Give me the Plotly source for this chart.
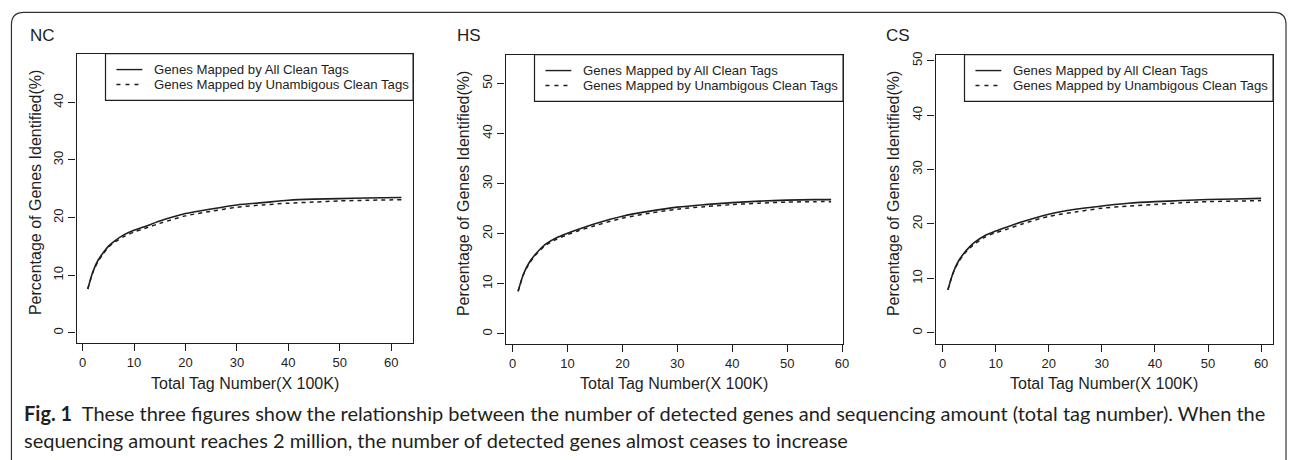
import plotly.graph_objects as go

W, H = 1293, 460

# ---------------- data ----------------
panel_names = ["NC", "HS", "CS"]
series_names = ["Genes Mapped by All Clean Tags", "Genes Mapped by Unambigous Clean Tags"]

nc_x = [1, 2, 3, 4, 5, 6, 8, 10, 12, 15, 20, 25, 30, 35, 40, 45, 50, 55, 62]
nc_all = [7.6, 10.6, 12.6, 13.9, 15.0, 15.8, 17.0, 17.8, 18.4, 19.4, 20.7, 21.5, 22.2, 22.6, 23.0, 23.2, 23.3, 23.4, 23.5]
nc_unamb = [7.6, 10.5, 12.4, 13.7, 14.8, 15.6, 16.7, 17.5, 18.1, 19.0, 20.3, 21.1, 21.8, 22.2, 22.5, 22.7, 22.9, 23.0, 23.1]

hs_x = [1, 2, 3, 4, 5, 6, 8, 10, 12, 15, 20, 25, 30, 35, 40, 45, 50, 55, 58]
hs_all = [8.5, 12.0, 14.2, 15.7, 16.9, 17.9, 19.2, 20.1, 20.9, 22.0, 23.5, 24.5, 25.3, 25.8, 26.2, 26.5, 26.7, 26.8, 26.8]
hs_unamb = [8.5, 11.9, 14.0, 15.5, 16.7, 17.7, 18.9, 19.8, 20.6, 21.6, 23.1, 24.1, 24.9, 25.4, 25.8, 26.1, 26.3, 26.4, 26.4]

cs_x = [1, 2, 3, 4, 5, 6, 8, 10, 12, 15, 20, 25, 30, 35, 40, 45, 50, 55, 60]
cs_all = [7.9, 11.1, 13.2, 14.6, 15.7, 16.6, 17.9, 18.7, 19.4, 20.4, 21.8, 22.7, 23.3, 23.8, 24.1, 24.3, 24.5, 24.6, 24.7]
cs_unamb = [7.9, 11.0, 13.0, 14.4, 15.5, 16.3, 17.6, 18.4, 19.0, 20.0, 21.4, 22.2, 22.9, 23.3, 23.6, 23.9, 24.1, 24.2, 24.3]

x_ticks = [0, 10, 20, 30, 40, 50, 60]
nc_y_ticks = [0, 10, 20, 30, 40]
hs_y_ticks = [0, 10, 20, 30, 40, 50]
cs_y_ticks = [0, 10, 20, 30, 40, 50]

x_title = "Total Tag Number(X 100K)"
y_title = "Percentage of Genes Identified(%)"
caption_1 = "<b>Fig. 1</b>  These three figures show the relationship between the number of detected genes and sequencing amount (total tag number). When the"
caption_2 = "sequencing amount reaches 2 million, the number of detected genes almost ceases to increase"

# ---------------- layout geometry (pixels) ----------------
def px(x):
    return x / W

def py(y):
    return 1 - y / H

panels = [
    dict(name="NC", x=nc_x, a=nc_all, u=nc_unamb, yt=nc_y_ticks,
         box=(77, 415, 51, 342), xr=[-1.16, 64.26], yr=[-1.72, 48.45],
         title_x=28, ytitle_x=35),
    dict(name="HS", x=hs_x, a=hs_all, u=hs_unamb, yt=hs_y_ticks,
         box=(508, 847, 52, 343), xr=[-1.27, 60.18], yr=[-1.98, 55.75],
         title_x=457, ytitle_x=465),
    dict(name="CS", x=cs_x, a=cs_all, u=cs_unamb, yt=cs_y_ticks,
         box=(940, 1279, 52, 343), xr=[-1.31, 62.25], yr=[-2.0, 51.1],
         title_x=888, ytitle_x=897),
]

FONT = "Liberation Sans, Arial, Helvetica, sans-serif"
INK = "#1e1e1e"

fig = go.Figure()
shapes = []
annotations = []
layout_axes = {}

for i, p in enumerate(panels, start=1):
    xa = "x" if i == 1 else f"x{i}"
    ya = "y" if i == 1 else f"y{i}"
    fig.add_trace(go.Scatter(x=p["x"], y=p["a"], mode="lines", xaxis=xa, yaxis=ya,
                             line=dict(color=INK, width=1.6, shape="spline", smoothing=0.8),
                             name=series_names[0], showlegend=False))
    fig.add_trace(go.Scatter(x=p["x"], y=p["u"], mode="lines", xaxis=xa, yaxis=ya,
                             line=dict(color=INK, width=1.5, dash="4px,4px", shape="spline", smoothing=0.8),
                             name=series_names[1], showlegend=False))
    l, r, t, b = p["box"]
    axcommon = dict(showline=True, linecolor=INK, linewidth=1.3, mirror=True,
                    ticks="outside", ticklen=7, tickwidth=1.1, tickcolor=INK,
                    showgrid=False, zeroline=False,
                    tickfont=dict(family=FONT, size=13, color=INK))
    layout_axes["xaxis" if i == 1 else f"xaxis{i}"] = dict(
        axcommon, domain=[px(l), px(r)], range=p["xr"], tickvals=x_ticks,
        anchor=ya)
    layout_axes["yaxis" if i == 1 else f"yaxis{i}"] = dict(
        axcommon, domain=[py(b), py(t)], range=p["yr"], tickvals=p["yt"],
        tickangle=-90, anchor=xa)

    # panel title
    annotations.append(dict(x=px(p["title_x"]), y=py(33), xref="paper", yref="paper",
                            text=p["name"], showarrow=False, xanchor="left", yanchor="middle",
                            font=dict(family=FONT, size=17, color=INK)))
    # axis titles
    annotations.append(dict(x=px((l + r) / 2), y=py(383), xref="paper", yref="paper",
                            text=x_title, showarrow=False, xanchor="center", yanchor="middle",
                            font=dict(family=FONT, size=16, color=INK)))
    annotations.append(dict(x=px(p["ytitle_x"]), y=py((t + b) / 2 - 6), xref="paper", yref="paper",
                            text=y_title, showarrow=False, textangle=-90,
                            xanchor="center", yanchor="middle",
                            font=dict(family=FONT, size=16, color=INK)))
    # legend box
    lb_l = l + 29
    lb_t, lb_b = t, t + 47
    shapes.append(dict(type="rect", xref="paper", yref="paper",
                       x0=px(lb_l), x1=px(r), y0=py(lb_b), y1=py(lb_t),
                       line=dict(color=INK, width=1.2), fillcolor="white", layer="above"))
    for k, (ry, dash) in enumerate([(lb_t + 16, "solid"), (lb_t + 31, "dash")]):
        shapes.append(dict(type="line", xref="paper", yref="paper",
                           x0=px(lb_l + 11), x1=px(lb_l + 37), y0=py(ry), y1=py(ry),
                           line=dict(color=INK, width=1.4, dash="solid" if dash == "solid" else "4px,5px"),
                           layer="above"))
        annotations.append(dict(x=px(lb_l + 47), y=py(ry), xref="paper", yref="paper",
                                text=series_names[k], showarrow=False,
                                xanchor="left", yanchor="middle",
                                font=dict(family=FONT, size=13.2, color=INK)))

# outer rounded frame
def P(x, y):
    return f"{px(x):.5f},{py(y):.5f}"

frame_path = (f"M {P(11.5, 470)} L {P(11.5, 22)} Q {P(11.5, 9.5)} {P(24, 9.5)} "
              f"L {P(1280, 9.5)} Q {P(1292, 9.5)} {P(1292, 22)} L {P(1292, 470)}")
shapes.append(dict(type="path", xref="paper", yref="paper", path=frame_path,
                   line=dict(color="#333333", width=1.2)))

CAP_FONT = "Lato, Noto Sans, sans-serif"
annotations.append(dict(x=px(22), y=py(413), xref="paper", yref="paper", text=caption_1,
                        showarrow=False, xanchor="left", yanchor="middle",
                        font=dict(family=CAP_FONT, size=20, color="#231f20")))
annotations.append(dict(x=px(22), y=py(440), xref="paper", yref="paper", text=caption_2,
                        showarrow=False, xanchor="left", yanchor="middle",
                        font=dict(family=CAP_FONT, size=20, color="#231f20")))

fig.update_layout(width=W, height=H, margin=dict(l=0, r=0, t=0, b=0),
                  paper_bgcolor="white", plot_bgcolor="white",
                  shapes=shapes, annotations=annotations, showlegend=False,
                  **layout_axes)

fig.write_html("out.html")
